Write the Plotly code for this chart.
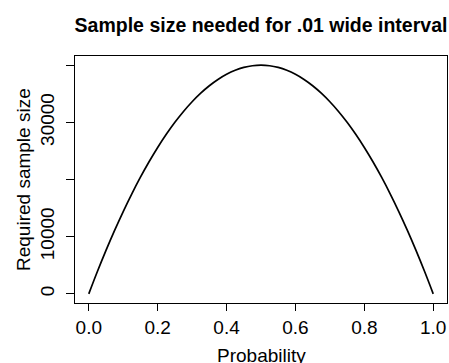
import plotly.graph_objects as go

# Probability grid and required sample size
probability = [0.0, 0.025, 0.05, 0.075, 0.1, 0.125, 0.15, 0.175, 0.2, 0.225, 0.25,
               0.275, 0.3, 0.325, 0.35, 0.375, 0.4, 0.425, 0.45, 0.475, 0.5,
               0.525, 0.55, 0.575, 0.6, 0.625, 0.65, 0.675, 0.7, 0.725, 0.75,
               0.775, 0.8, 0.825, 0.85, 0.875, 0.9, 0.925, 0.95, 0.975, 1.0]
sample_size = [0, 3900, 7600, 11100, 14400, 17500, 20400, 23100, 25600, 27900, 30000,
               31900, 33600, 35100, 36400, 37500, 38400, 39100, 39600, 39900, 40000,
               39900, 39600, 39100, 38400, 37500, 36400, 35100, 33600, 31900, 30000,
               27900, 25600, 23100, 20400, 17500, 14400, 11100, 7600, 3900, 0]

x_ticks = [0.0, 0.2, 0.4, 0.6, 0.8, 1.0]
x_tick_labels = ["0.0", "0.2", "0.4", "0.6", "0.8", "1.0"]
y_ticks = [0, 10000, 20000, 30000, 40000]
y_tick_labels = ["0", "10000", "", "30000", ""]

title_text = "Sample size needed for .01 wide interval"
x_title = "Probability"
y_title = "Required sample size"

FONT = "Liberation Sans, Arial, Helvetica, sans-serif"
AX = 19

fig = go.Figure()
fig.add_trace(go.Scatter(
    x=probability, y=sample_size, mode="lines",
    line=dict(color="black", width=1.7, shape="spline"),
    showlegend=False, hoverinfo="skip",
))

W, H = 449, 363
L, R, T, B = 75, 2, 56, 60

fig.update_layout(
    width=W, height=H,
    margin=dict(l=L, r=R, t=T, b=B, pad=0),
    paper_bgcolor="white", plot_bgcolor="white",
    font=dict(family=FONT, size=AX, color="black"),
    title=dict(text="<b>" + title_text + "</b>", x=(L + (W - R - L) / 2) / W, xanchor="center",
               y=1 - 25 / H, yanchor="middle", yref="container",
               font=dict(family=FONT, size=19.5, color="black")),
)
fig.update_xaxes(
    range=[-0.04, 1.04], tickvals=x_ticks, ticktext=x_tick_labels,
    showgrid=False, zeroline=False, showline=True, mirror=True,
    linecolor="black", linewidth=1.2, ticks="outside", ticklen=7,
    tickwidth=1, tickcolor="black", tickfont=dict(size=AX),
)
fig.update_yaxes(
    range=[-1600, 41600], tickvals=y_ticks, ticktext=y_tick_labels,
    showgrid=False, zeroline=False, showline=True, mirror=True,
    linecolor="black", linewidth=1.2, ticks="outside", ticklen=8,
    tickwidth=1, tickcolor="black", tickangle=-90, tickfont=dict(size=AX),
    ticklabelstandoff=4,
)
fig.add_annotation(text=x_title, xref="paper", yref="paper", x=0.5,
                   y=-(355 - (H - B)) / (H - T - B), xanchor="center", yanchor="middle",
                   showarrow=False, font=dict(family=FONT, size=AX, color="black"))
fig.add_annotation(text=y_title, xref="paper", yref="paper",
                   x=-(L - 23.5) / (W - L - R), y=0.5, xanchor="center", yanchor="middle",
                   textangle=-90, showarrow=False,
                   font=dict(family=FONT, size=AX, color="black"))

fig.write_html("out.html")
